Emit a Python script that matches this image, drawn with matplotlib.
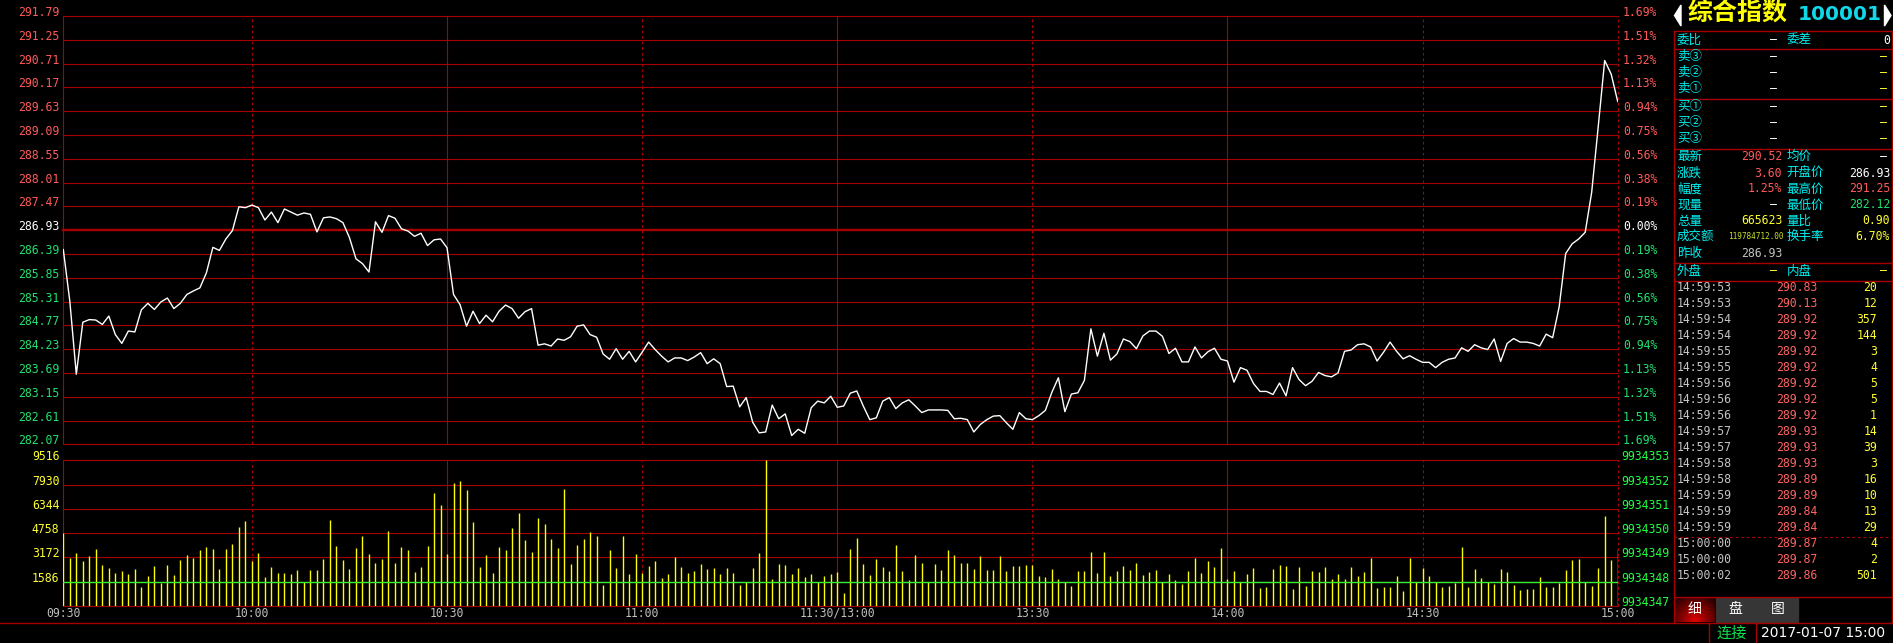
import numpy as np
import matplotlib.pyplot as plt
import matplotlib.transforms as mtransforms
from matplotlib.patches import Polygon, Rectangle

plt.rcParams['font.family'] = ['Noto Sans CJK SC', 'DejaVu Sans']

# ---- data (one point / bar per minute, 09:31 .. 15:00) ----
prev_close = 286.93
price_step = 0.54
vol_step = 1586
avg_vol = 1586
vol_right_base = 9934347

price = [
    286.49, 285.32, 283.66, 284.84, 284.90, 284.89, 284.79, 284.98, 284.56, 284.36,
    284.64, 284.62, 285.12, 285.27, 285.13, 285.30, 285.39, 285.15, 285.27, 285.47,
    285.55, 285.62, 285.96, 286.54, 286.47, 286.73, 286.92, 287.46, 287.44, 287.50,
    287.44, 287.16, 287.34, 287.10, 287.41, 287.34, 287.27, 287.32, 287.29, 286.89,
    287.21, 287.23, 287.19, 287.10, 286.76, 286.28, 286.17, 285.98, 287.12, 286.88,
    287.26, 287.20, 286.96, 286.91, 286.79, 286.86, 286.58, 286.71, 286.73, 286.53,
    285.47, 285.24, 284.75, 285.09, 284.81, 285.00, 284.85, 285.09, 285.23, 285.15,
    284.93, 285.08, 285.15, 284.32, 284.35, 284.30, 284.46, 284.43, 284.51, 284.75,
    284.78, 284.56, 284.50, 284.12, 284.00, 284.24, 284.00, 284.18, 283.94, 284.16,
    284.39, 284.22, 284.07, 283.94, 284.03, 284.03, 283.97, 284.05, 284.15, 283.90,
    284.01, 283.90, 283.38, 283.39, 282.92, 283.13, 282.57, 282.33, 282.35, 282.96,
    282.65, 282.76, 282.27, 282.41, 282.32, 282.90, 283.05, 283.01, 283.16, 282.91,
    282.94, 283.23, 283.28, 282.94, 282.63, 282.67, 283.05, 283.13, 282.88, 283.01,
    283.08, 282.94, 282.79, 282.85, 282.85, 282.85, 282.84, 282.65, 282.66, 282.63,
    282.35, 282.52, 282.63, 282.71, 282.72, 282.56, 282.41, 282.79, 282.65, 282.63,
    282.72, 282.84, 283.25, 283.58, 282.81, 283.21, 283.24, 283.52, 284.69, 284.07,
    284.59, 283.98, 284.12, 284.46, 284.40, 284.24, 284.53, 284.64, 284.64, 284.52,
    284.13, 284.25, 283.94, 283.94, 284.28, 284.03, 284.17, 284.25, 284.00, 283.96,
    283.48, 283.81, 283.75, 283.45, 283.27, 283.27, 283.20, 283.46, 283.17, 283.81,
    283.54, 283.40, 283.50, 283.70, 283.63, 283.60, 283.69, 284.18, 284.21, 284.33,
    284.35, 284.28, 283.96, 284.16, 284.39, 284.18, 284.01, 284.08, 284.00, 283.93,
    283.93, 283.81, 283.93, 284.00, 284.03, 284.26, 284.18, 284.33, 284.26, 284.22,
    284.46, 283.95, 284.36, 284.47, 284.39, 284.39, 284.36, 284.30, 284.57, 284.49,
    285.19, 286.40, 286.62, 286.73, 286.88, 287.79, 289.27, 290.78, 290.47, 289.85,
]

volume = [
    4800, 3164, 3469, 2946, 3273, 3731, 2684, 2487, 2160, 2291,
    2095, 2422, 1244, 1964, 2618, 1506, 2684, 2029, 3011, 3338,
    3142, 3666, 3862, 3731, 2422, 3731, 4059, 5171, 5564, 2946,
    3469, 1898, 2553, 2160, 2160, 2095, 2357, 1571, 2357, 2357,
    3077, 5630, 3928, 3011, 2422, 3797, 4582, 3404, 2815, 3077,
    4910, 2815, 3862, 3666, 2226, 2553, 3928, 7397, 6611, 3404,
    8052, 8183, 7593, 5455, 2553, 3338, 2160, 3862, 3666, 5106,
    6088, 4320, 3535, 5760, 5368, 4386, 3797, 7659, 2749, 3993,
    4386, 4844, 4582, 1375, 3666, 2487, 4582, 2095, 3404, 2160,
    2618, 2946, 1833, 2095, 3208, 2553, 2160, 2291, 2749, 2422,
    2487, 2095, 2487, 2160, 1375, 1571, 2487, 3469, 9516, 1767,
    2749, 2684, 2095, 2487, 1898, 2095, 1571, 1964, 2095, 2226,
    851, 3731, 4451, 2749, 2029, 3077, 2553, 2291, 3993, 2291,
    1702, 3338, 2815, 1571, 2749, 2357, 3666, 3338, 2815, 2815,
    2422, 3273, 2357, 2357, 3273, 2291, 2618, 2618, 2684, 2684,
    1964, 1898, 2422, 1767, 1571, 1309, 2291, 2291, 3535, 2160,
    3535, 1964, 2291, 2618, 2357, 2815, 2029, 2226, 2357, 1571,
    2095, 1702, 1440, 2291, 3142, 2160, 2946, 2553, 3797, 1767,
    2291, 1571, 2093, 2473, 1189, 1237, 2402, 2663, 2616, 1118,
    2521, 1308, 2259, 2212, 2544, 1760, 2093, 1736, 2521, 1950,
    2212, 3115, 1189, 1237, 1237, 1974, 951, 3115, 1593, 2497,
    1974, 1569, 1237, 1284, 1474, 3829, 1237, 2402, 1807, 1569,
    1451, 2402, 2212, 1355, 1046, 1094, 1094, 1879, 1237, 1237,
    1474, 2330, 2996, 3044, 1569, 1284, 2473, 5897, 2996, 3710,
]

time_labels = ['09:30', '10:00', '10:30', '11:00', '11:30/13:00',
               '13:30', '14:00', '14:30', '15:00']
time_ticks = [0, 29, 59, 89, 119, 149, 179, 209, 239]
solid_ticks = [0, 59, 119, 179]

# quote box rows: label, value, colour, label2, value2, colour2
quote_rows = [
    ('最新', '290.52', 'red', '均价', '—', 'white'),
    ('涨跌', '3.60', 'red', '开盘价', '286.93', 'white'),
    ('幅度', '1.25%', 'red', '最高价', '291.25', 'red'),
    ('现量', '—', 'white', '最低价', '282.12', 'green'),
    ('总量', '665623', 'yellow', '量比', '0.90', 'yellow'),
    ('成交额', '119784712.00', 'olive', '换手率', '6.70%', 'yellow'),
    ('昨收', '286.93', 'gray', '', '', 'white'),
]
book_labels = ['卖③', '卖②', '卖①', '买①', '买②', '买③']

tick_times = ['14:59:53', '14:59:53', '14:59:54', '14:59:54', '14:59:55',
              '14:59:55', '14:59:56', '14:59:56', '14:59:56', '14:59:57',
              '14:59:57', '14:59:58', '14:59:58', '14:59:59', '14:59:59',
              '14:59:59', '15:00:00', '15:00:00', '15:00:02']
tick_prices = [290.83, 290.13, 289.92, 289.92, 289.92, 289.92, 289.92, 289.92,
               289.92, 289.93, 289.93, 289.93, 289.89, 289.89, 289.84, 289.84,
               289.87, 289.87, 289.86]
tick_vols = [20, 12, 357, 144, 3, 4, 5, 5, 1, 14, 39, 3, 16, 10, 13, 29, 4, 2, 501]

# ---- colours ----
GRID = '#A80000'
RED = '#FF5A5A'
GREEN = '#22E070'
CYAN = '#00F0F0'
YEL = '#FFFF30'
GRAY = '#C4C4C4'
cmap = {'red': RED, 'green': GREEN, 'white': 'white', 'yellow': YEL,
        'gray': GRAY, 'olive': '#C8E028'}
MONO = 'DejaVu Sans Mono'

W, H = 1893, 643
fig = plt.figure(figsize=(W / 100, H / 100), dpi=100, facecolor='black')


def px_box(x0, y0, x1, y1):
    return [x0 / W, 1 - y1 / H, (x1 - x0) / W, (y1 - y0) / H]


ax_p = fig.add_axes(px_box(63.3, 16, 1617.7, 444.3))
ax_v = fig.add_axes(px_box(63.3, 460.3, 1617.7, 606))
ui = fig.add_axes([0, 0, 1, 1])
ui.set_xlim(0, W)
ui.set_ylim(H, 0)
ui.set_axis_off()

x = np.arange(len(price))

# ---- price panel ----
levels = prev_close + price_step * np.arange(-9, 10)
ax_p.set_xlim(0, 239)
ax_p.set_ylim(levels[0], levels[-1])
ax_p.set_axis_off()
for lv in levels:
    lw = 1.7 if abs(lv - prev_close) < 1e-6 else 0.8
    ax_p.axhline(lv, color=GRID, lw=lw, clip_on=False, zorder=1)
for k in time_ticks:
    ls = '-' if k in solid_ticks else (0, (2.5, 2.5))
    ax_p.axvline(k, color=GRID, lw=0.8, ls=ls, clip_on=False, zorder=1)
ax_p.plot(x, price, color='white', lw=1.0, zorder=3)

tr_p_left = mtransforms.blended_transform_factory(ax_p.transAxes, ax_p.transData)
for lv in levels:
    if abs(lv - prev_close) < 1e-6:
        c = 'white'
    elif lv > prev_close:
        c = RED
    else:
        c = GREEN
    ax_p.text(-0.0025, lv, f'{lv:.2f}', transform=tr_p_left, ha='right',
              va='baseline', color=c, family=MONO, fontsize=8.3, clip_on=False)
    pct = abs(lv - prev_close) / prev_close * 100
    ax_p.text(1.0035, lv, f'{pct:.2f}%', transform=tr_p_left, ha='left',
              va='baseline', color=c, family=MONO, fontsize=8.3, clip_on=False)

# ---- volume panel ----
vol_levels = vol_step * np.arange(0, 7)
ax_v.set_xlim(0, 239)
ax_v.set_ylim(0, vol_levels[-1])
ax_v.set_axis_off()
for lv in vol_levels:
    ax_v.axhline(lv, color=GRID, lw=0.8, clip_on=False, zorder=1)
for k in time_ticks:
    ls = '-' if k in solid_ticks else (0, (2.5, 2.5))
    ax_v.axvline(k, color=GRID, lw=0.8, ls=ls, clip_on=False, zorder=1)
ax_v.vlines(x, 0, volume, color='#FFFF00', lw=1.0, zorder=2)
ax_v.axhline(avg_vol, color='#30F030', lw=1.0, zorder=3)

tr_v_left = mtransforms.blended_transform_factory(ax_v.transAxes, ax_v.transData)
for j, lv in enumerate(vol_levels):
    if j > 0:
        ax_v.text(-0.0025, lv, f'{lv}', transform=tr_v_left, ha='right',
                  va='baseline', color=YEL, family=MONO, fontsize=8.3, clip_on=False)
    ax_v.text(1.0025, lv, f'{vol_right_base + j}', transform=tr_v_left, ha='left',
              va='baseline', color='#20FF40', family=MONO, fontsize=8.3, clip_on=False)

tr_v_time = mtransforms.blended_transform_factory(ax_v.transData, ax_v.transAxes)
for k, lab in zip(time_ticks, time_labels):
    ax_v.text(k, -0.05, lab, transform=tr_v_time, ha='center', va='center',
              color='#BEBEBE', family=MONO, fontsize=8.3, clip_on=False)

# ---- frame lines outside the plots ----
PL, PR = 1673.7, 1891.5
ui.plot([0, W], [623, 623], color=GRID, lw=1.0)
ui.plot([PL, PL], [31.3, 623], color=GRID, lw=1.0)
ui.plot([PR, PR], [31.3, 623], color=GRID, lw=1.0)
for yy in [31.3, 49.3, 99, 149.3, 263.3, 281, 597.3]:
    ui.plot([PL, PR], [yy, yy], color=GRID, lw=1.0)
ui.plot([PL, PR], [536.7, 536.7], color=GRID, lw=0.8, ls=(0, (2.5, 2.5)))
for xx in [1709, 1755.7]:
    ui.plot([xx, xx], [623, H], color=GRID, lw=1.0)

# ---- title ----
ui.add_patch(Polygon([(1681, 5), (1681, 26), (1674.5, 15.5)], color='white'))
ui.add_patch(Polygon([(1884.5, 5), (1884.5, 26), (1891, 15.5)], color='white'))
ui.text(1688, 14, '综合指数', color='#FFFF00', fontsize=18, fontweight='bold',
        va='center', ha='left')
ui.text(1840, 14.5, '100001', color='#10D8E8', fontsize=14.5, fontweight='bold',
        va='center', ha='center', family='DejaVu Sans')

# ---- quote box ----
LX, MIDDASH, VX, L2X, V2X, RDASH = 1677, 1773, 1782, 1786.7, 1890, 1883
CJK = 9
NUM = 8.3


def cjk(xp, yp, s, c=CYAN, ha='left'):
    ui.text(xp, yp, s, color=c, fontsize=CJK, va='center', ha=ha)


def num(xp, yp, s, c, ha='right', size=NUM):
    ui.text(xp, yp, s, color=c, fontsize=size, va='center', ha=ha, family=MONO)


cjk(LX, 40, '委比')
num(MIDDASH, 40, '—', 'white', ha='center')
cjk(L2X, 40, '委差')
num(V2X, 40, '0', 'white')

book_y = [56.7, 72.3, 88.3, 106.7, 122.3, 138.3]
for lab, yy in zip(book_labels, book_y):
    cjk(LX, yy, lab)
    num(MIDDASH, yy, '—', 'white', ha='center')
    num(RDASH, yy, '—', YEL, ha='center')

quote_y = [156.7, 173.3, 189, 205, 221, 236.7, 253.3]
for (l1, v1, c1, l2, v2, c2), yy in zip(quote_rows, quote_y):
    cjk(LX, yy, l1)
    if v1 == '—':
        num(MIDDASH, yy, v1, cmap[c1], ha='center')
    elif l1 == '成交额':
        num(1784, yy, v1, cmap[c1], size=5.6)
    else:
        num(VX, yy, v1, cmap[c1])
    if l2:
        cjk(L2X, yy, l2)
        if v2 == '—':
            num(RDASH, yy, v2, cmap[c2], ha='center')
        else:
            num(V2X, yy, v2, cmap[c2])

cjk(LX, 271, '外盘')
num(MIDDASH, 271, '—', YEL, ha='center')
cjk(L2X, 271, '内盘')
num(RDASH, 271, '—', YEL, ha='center')

# ---- tick list ----
for i, (tt, pp, vv) in enumerate(zip(tick_times, tick_prices, tick_vols)):
    yy = 287.7 + 16 * i
    num(LX, yy, tt, GRAY, ha='left')
    num(1817.5, yy, f'{pp:.2f}', '#FF6464')
    num(1877, yy, f'{vv}', YEL)

# ---- tabs ----
gx = np.linspace(-1, 1, 60)
gy = np.linspace(0, 1, 30)
GX, GY = np.meshgrid(gx, gy)
glow = np.clip(1 - np.sqrt(GX ** 2 + (1 - GY) ** 2 * 1.2) * 0.75, 0, 1)
img = np.zeros((30, 60, 3))
img[..., 0] = 0.18 + 0.72 * glow
ui.imshow(img, extent=(1674.5, 1714, 622, 598), aspect='auto', zorder=1)
ui.add_patch(Rectangle((1715.5, 598), 40, 24, color='#363636', zorder=1))
ui.add_patch(Rectangle((1757, 598), 41, 24, color='#363636', zorder=1))
for xx, s in [(1694, '细'), (1735.5, '盘'), (1777.5, '图')]:
    ui.text(xx, 609, s, color='white', fontsize=10, ha='center', va='center', zorder=3)

# ---- status bar ----
ui.text(1731.5, 633, '连接', color='#10E050', fontsize=11, ha='center', va='center')
ui.text(1823, 633, '2017-01-07 15:00', color='white', fontsize=10, ha='center',
        va='center', family='DejaVu Sans')

ui.set_xlim(0, W)
ui.set_ylim(H, 0)

fig.savefig('out.png', dpi=100, facecolor='black')
